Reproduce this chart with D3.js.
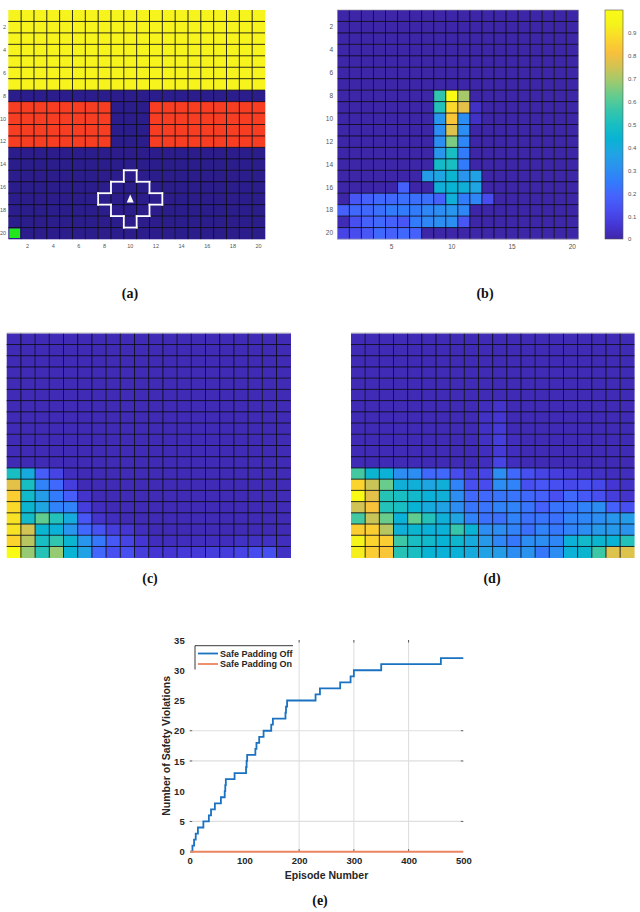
<!DOCTYPE html>
<html><head><meta charset="utf-8">
<script src="https://cdn.jsdelivr.net/npm/d3@7"></script>
<style>body{margin:0;background:#fff}svg{display:block}</style>
</head><body>
<svg id="fig" width="640" height="912"></svg>
<script>
// ---------- DATA ----------
const rowIds = d3.range(1, 21);
const colIds = d3.range(1, 21);
const tickA = [2,4,6,8,10,12,14,16,18,20];
const tickBx = [5,10,15,20];
const tickBy = [2,4,6,8,10,12,14,16,18,20];
const cbTicks = [0,0.1,0.2,0.3,0.4,0.5,0.6,0.7,0.8,0.9];

// (a) environment map: Y = hazard (yellow), R = wall (red), B = free, G = goal
const gridA = [
 "YYYYYYYYYYYYYYYYYYYY","YYYYYYYYYYYYYYYYYYYY","YYYYYYYYYYYYYYYYYYYY",
 "YYYYYYYYYYYYYYYYYYYY","YYYYYYYYYYYYYYYYYYYY","YYYYYYYYYYYYYYYYYYYY",
 "YYYYYYYYYYYYYYYYYYYY","BBBBBBBBBBBBBBBBBBBB",
 "RRRRRRRRBBBRRRRRRRRR","RRRRRRRRBBBRRRRRRRRR","RRRRRRRRBBBRRRRRRRRR","RRRRRRRRBBBRRRRRRRRR",
 "BBBBBBBBBBBBBBBBBBBB","BBBBBBBBBBBBBBBBBBBB","BBBBBBBBBBBBBBBBBBBB",
 "BBBBBBBBBBBBBBBBBBBB","BBBBBBBBBBBBBBBBBBBB","BBBBBBBBBBBBBBBBBBBB",
 "BBBBBBBBBBBBBBBBBBBB","GBBBBBBBBBBBBBBBBBBB"
];
const agentA = [17, 10];      // row, col
const paddingRadius = 2;

const z8 = [0,0,0,0,0,0,0,0];
const z20 = d3.range(20).map(() => 0);
const heatB = [
 z20, z20, z20, z20, z20, z20, z20,
 [...z8, 0.55, 1.0, 0.70, 0,0,0,0,0,0,0,0,0],
 [...z8, 0.52, 0.88, 0.78, 0.04, 0,0,0,0,0,0,0,0],
 [...z8, 0.33, 0.83, 0.30, 0.04, 0,0,0,0,0,0,0,0],
 [...z8, 0.30, 0.77, 0.30, 0,0,0,0,0,0,0,0,0],
 [...z8, 0.30, 0.65, 0.28, 0,0,0,0,0,0,0,0,0],
 [...z8, 0.33, 0.50, 0.25, 0,0,0,0,0,0,0,0,0],
 [...z8, 0.48, 0.50, 0.25, 0,0,0,0,0,0,0,0,0],
 [0,0,0,0,0,0,0, 0.35, 0.38, 0.45, 0.33, 0.37, 0,0,0,0,0,0,0,0],
 [0,0,0,0,0, 0.18, 0,0, 0.42, 0.44, 0.42, 0.38, 0,0,0,0,0,0,0,0],
 [0, 0.15, 0.18, 0.20, 0.20, 0.22, 0.22, 0.22, 0.18, 0.42, 0.25, 0.28, 0.12, 0,0,0,0,0,0,0],
 [0.18, 0.20, 0.20, 0.22, 0.25, 0.25, 0.25, 0.28, 0.30, 0.33, 0.28, 0,0,0,0,0,0,0,0,0],
 [0.02, 0.13, 0.18, 0.20, 0.18, 0.15, 0.25, 0.28, 0.30, 0.30, 0.15, 0,0,0,0,0,0,0,0,0],
 [0.10, 0.12, 0.15, 0.20, 0.18, 0.20, 0.18, 0,0,0,0,0,0,0,0,0,0,0,0,0]
];

const b20 = d3.range(20).map(() => 0.02);
const heatC = [
 b20, b20, b20, b20, b20, b20, b20, b20, b20, b20, b20, b20,
 [0.50, 0.40, 0.17, 0.10, 0.03, 0.02,0.02,0.02,0.02,0.02,0.02,0.02,0.02,0.02,0.02,0.02,0.02,0.02,0.02,0.02],
 [0.78, 0.50, 0.27, 0.20, 0.08, 0.02,0.02,0.02,0.02,0.02,0.02,0.02,0.02,0.02,0.02,0.02,0.02,0.02,0.02,0.02],
 [0.85, 0.47, 0.35, 0.25, 0.17, 0.05, 0.02,0.02,0.02,0.02,0.02,0.02,0.02,0.02,0.02,0.02,0.02,0.02,0.02,0.02],
 [0.88, 0.45, 0.38, 0.27, 0.27, 0.08, 0.03,0.02,0.02,0.02,0.02,0.02,0.02,0.02,0.02,0.02,0.02,0.02,0.02,0.02],
 [0.90, 0.48, 0.62, 0.52, 0.40, 0.15, 0.05, 0.03,0.02,0.02,0.02,0.02,0.02,0.02,0.02,0.02,0.02,0.02,0.02,0.02],
 [0.90, 0.75, 0.45, 0.43, 0.33, 0.20, 0.14, 0.08, 0.06, 0.03,0.02,0.02,0.02,0.02,0.02,0.02,0.02,0.02,0.02,0.02],
 [0.87, 0.72, 0.50, 0.55, 0.45, 0.33, 0.24, 0.16, 0.10, 0.06, 0.03,0.03,0.03,0.03,0.03,0.03,0.04,0.04,0.04,0.03],
 [1.00, 0.68, 0.53, 0.68, 0.44, 0.37, 0.20, 0.13, 0.13, 0.08, 0.06, 0.06, 0.07, 0.07, 0.08, 0.08, 0.10, 0.12, 0.13, 0.04]
];

const heatD = [
 b20, b20, b20, b20, b20, b20,
 [0.02,0.02,0.02,0.02,0.02,0.02,0.02,0.02,0.02,0.03,0.05,0.02,0.02,0.02,0.02,0.02,0.02,0.02,0.02,0.02],
 [0.02,0.02,0.02,0.02,0.02,0.02,0.02,0.02,0.02,0.04,0.06,0.02,0.02,0.02,0.02,0.02,0.02,0.02,0.02,0.02],
 [0.02,0.02,0.02,0.02,0.02,0.02,0.02,0.02,0.02,0.04,0.07,0.02,0.02,0.02,0.02,0.02,0.02,0.02,0.02,0.02],
 [0.02,0.02,0.02,0.02,0.02,0.02,0.02,0.02,0.02,0.04,0.08,0.03,0.02,0.02,0.02,0.02,0.02,0.02,0.02,0.02],
 [0.02,0.02,0.02,0.02,0.02,0.02,0.02,0.02,0.02,0.03,0.07,0.03,0.02,0.02,0.02,0.02,0.02,0.02,0.02,0.02],
 [0.02,0.02,0.02,0.02,0.02,0.02,0.02,0.02,0.02,0.03,0.10,0.03,0.02,0.02,0.02,0.02,0.02,0.02,0.02,0.02],
 [0.58, 0.45, 0.43, 0.30, 0.30, 0.20, 0.20, 0.12, 0.08, 0.10, 0.30, 0.20, 0.13, 0.10, 0.08, 0.07, 0.05, 0.04, 0.03, 0.03],
 [0.87, 0.74, 0.63, 0.42, 0.42, 0.38, 0.42, 0.27, 0.13, 0.12, 0.30, 0.27, 0.13, 0.15, 0.13, 0.11, 0.13, 0.11, 0.06, 0.04],
 [1.00, 0.78, 0.53, 0.50, 0.47, 0.43, 0.42, 0.30, 0.20, 0.20, 0.23, 0.23, 0.20, 0.18, 0.13, 0.20, 0.16, 0.13, 0.08, 0.05],
 [0.75, 0.82, 0.52, 0.50, 0.44, 0.40, 0.37, 0.30, 0.23, 0.23, 0.27, 0.27, 0.23, 0.18, 0.23, 0.23, 0.27, 0.30, 0.18, 0.13],
 [0.58, 0.74, 0.63, 0.43, 0.62, 0.52, 0.42, 0.38, 0.27, 0.22, 0.22, 0.27, 0.22, 0.23, 0.22, 0.27, 0.28, 0.30, 0.33, 0.35],
 [0.85, 0.85, 0.72, 0.42, 0.45, 0.43, 0.43, 0.56, 0.44, 0.30, 0.30, 0.27, 0.22, 0.27, 0.24, 0.27, 0.30, 0.34, 0.34, 0.32],
 [0.95, 0.87, 0.85, 0.57, 0.50, 0.47, 0.44, 0.46, 0.40, 0.34, 0.28, 0.24, 0.30, 0.30, 0.28, 0.43, 0.47, 0.45, 0.44, 0.52],
 [0.93, 0.85, 0.83, 0.53, 0.50, 0.44, 0.43, 0.43, 0.40, 0.37, 0.35, 0.30, 0.32, 0.24, 0.30, 0.43, 0.45, 0.57, 0.77, 0.77]
];

// (e) cumulative safety violations
const offEpisodes = [1, 5, 8, 11, 15, 25, 35, 39, 46, 57, 64, 65, 66, 82, 103, 104, 105, 120, 122, 127, 135, 149, 152, 175, 176, 178, 230, 238, 275, 294, 300, 350, 459, 500];
const offCounts   = [0, 1, 2, 3, 4, 5, 6, 7, 8, 9, 10, 11, 12, 13, 14, 15, 16, 17, 18, 19, 20, 21, 22, 23, 24, 25, 26, 27, 28, 29, 30, 31, 32, 32];
const onEpisodes = [1, 500];
const onCounts   = [0, 0];
const xTicksE = [0,100,200,300,400,500];
const yTicksE = [0,5,10,15,20,25,30,35];
const gridXE = [200,300,400];
const gridYE = [5,15,20];
const seriesNames = ["Safe Padding Off", "Safe Padding On"];
const captions = ["(a)","(b)","(c)","(d)","(e)"];

// ---------- STYLE ----------
const parulaStops = [
 [0.2422,0.1504,0.6603],[0.2706,0.2147,0.8364],[0.2813,0.3006,0.9414],[0.2699,0.3892,0.9906],
 [0.1963,0.4847,0.9892],[0.1687,0.5703,0.9359],[0.1240,0.6442,0.8883],[0.0297,0.7015,0.8331],
 [0.0964,0.7444,0.7611],[0.2161,0.7770,0.6678],[0.3909,0.7981,0.5555],[0.6174,0.7924,0.4355],
 [0.8203,0.7653,0.3310],[0.9728,0.7473,0.2369],[0.9858,0.8427,0.1739],[0.9559,0.9531,0.1064],
 [0.9769,0.9839,0.0805]
].map(c => d3.rgb(c[0]*255, c[1]*255, c[2]*255).formatHex());
const parula = d3.scaleLinear()
  .domain(parulaStops.map((_, i) => i / (parulaStops.length - 1)))
  .range(parulaStops).interpolate(d3.interpolateRgb).clamp(true);
const mapColors = {Y: "#f6f41c", R: "#f73d22", B: "#2c1d8c", G: "#22e61e"};

const svg = d3.select("#fig");
const tickFont = "'Liberation Sans', Arial, sans-serif";

function heatPanel(data, x0, x1, y0, y1, colorFn) {
  const x = d3.scaleBand().domain(colIds).range([x0, x1]);
  const y = d3.scaleBand().domain(rowIds).range([y0, y1]);
  const g = svg.append("g");
  const cells = [];
  data.forEach((row, ri) => {
    const arr = typeof row === "string" ? row.split("") : row;
    arr.forEach((v, ci) => cells.push({r: ri + 1, c: ci + 1, v}));
  });
  g.selectAll("rect.cell").data(cells).join("rect").attr("class", "cell")
    .attr("x", d => x(d.c)).attr("y", d => y(d.r))
    .attr("width", x.bandwidth() + 0.3).attr("height", y.bandwidth() + 0.3)
    .attr("fill", d => colorFn(d.v));
  const gl = g.append("g").attr("stroke", "#0a0a14").attr("stroke-opacity", 0.85).attr("stroke-width", 1);
  colIds.slice(1).forEach(c => gl.append("line").attr("x1", x(c)).attr("x2", x(c)).attr("y1", y0).attr("y2", y1));
  rowIds.slice(1).forEach(r => gl.append("line").attr("y1", y(r)).attr("y2", y(r)).attr("x1", x0).attr("x2", x1));
  return {x, y, g};
}

// ---------- (a) ----------
const A = heatPanel(gridA, 8.3, 265, 10, 239, v => v === "G" ? mapColors.B : mapColors[v]);
gridA.forEach((row, ri) => row.split("").forEach((ch, ci) => {
  if (ch === "G") {
    A.g.append("rect").attr("x", A.x(ci + 1) + 1).attr("y", A.y(ri + 1) + 1)
      .attr("width", A.x.bandwidth() - 2).attr("height", A.y.bandwidth() - 2).attr("fill", mapColors.G);
  }
}));
{
  const inSet = (r, c) => Math.abs(r - agentA[0]) + Math.abs(c - agentA[1]) <= paddingRadius;
  const segs = [];
  rowIds.forEach(r => colIds.forEach(c => {
    if (!inSet(r, c)) return;
    const xl = A.x(c), xr = A.x(c) + A.x.bandwidth(), yt = A.y(r), yb = A.y(r) + A.y.bandwidth();
    if (!inSet(r - 1, c)) segs.push([xl, yt, xr, yt]);
    if (!inSet(r + 1, c)) segs.push([xl, yb, xr, yb]);
    if (!inSet(r, c - 1)) segs.push([xl, yt, xl, yb]);
    if (!inSet(r, c + 1)) segs.push([xr, yt, xr, yb]);
  }));
  A.g.selectAll("line.pad").data(segs).join("line").attr("class", "pad")
    .attr("x1", d => d[0]).attr("y1", d => d[1]).attr("x2", d => d[2]).attr("y2", d => d[3])
    .attr("stroke", "#fff").attr("stroke-width", 1.8).attr("stroke-linecap", "square");
  const cx = A.x(agentA[1]) + A.x.bandwidth() / 2, cy = A.y(agentA[0]) + A.y.bandwidth() / 2;
  A.g.append("path").attr("d", `M${cx},${cy - 4.5}L${cx + 3.5},${cy + 3.5}L${cx - 3.5},${cy + 3.5}Z`).attr("fill", "#fff");
}
{
  const ax = svg.append("g").attr("transform", "translate(0,241)")
    .call(d3.axisBottom(A.x).tickValues(tickA).tickSize(0).tickPadding(3));
  const ay = svg.append("g").attr("transform", "translate(7,0)")
    .call(d3.axisLeft(A.y).tickValues(tickA).tickSize(0).tickPadding(1));
  [ax, ay].forEach(a => { a.select(".domain").remove(); a.selectAll("text").attr("font-size", 5.5).attr("fill", "#555").attr("font-family", tickFont); });
}

// ---------- (b) ----------
const B = heatPanel(heatB, 337.3, 578.3, 10, 239, parula);
svg.append("rect").attr("x", 337.3).attr("y", 10).attr("width", 241).attr("height", 229).attr("fill", "none").attr("stroke", "#999").attr("stroke-width", 0.6);
{
  const ax = svg.append("g").attr("transform", "translate(0,241)")
    .call(d3.axisBottom(B.x).tickValues(tickBx).tickSize(0).tickPadding(3));
  const ay = svg.append("g").attr("transform", "translate(335,0)")
    .call(d3.axisLeft(B.y).tickValues(tickBy).tickSize(0).tickPadding(2));
  [ax, ay].forEach(a => { a.select(".domain").remove(); a.selectAll("text").attr("font-size", 6.5).attr("fill", "#555").attr("font-family", tickFont); });
}
{
  const cb = d3.scaleLinear().domain([0, 1]).range([239, 10]);
  const grad = svg.append("defs").append("linearGradient").attr("id", "parula").attr("x1", 0).attr("y1", 1).attr("x2", 0).attr("y2", 0);
  parulaStops.forEach((c, i) => grad.append("stop").attr("offset", i / (parulaStops.length - 1)).attr("stop-color", c));
  svg.append("rect").attr("x", 605).attr("y", cb(1)).attr("width", 18).attr("height", cb(0) - cb(1))
    .attr("fill", "url(#parula)").attr("stroke", "#555").attr("stroke-width", 0.6);
  const a = svg.append("g").attr("transform", "translate(625,0)")
    .call(d3.axisRight(cb).tickValues(cbTicks).tickSize(0).tickPadding(3).tickFormat(d => d === 0 ? "0" : d3.format(".1f")(d)));
  a.select(".domain").remove();
  a.selectAll("text").attr("font-size", 6).attr("fill", "#555").attr("font-family", tickFont);
}

// ---------- (c), (d) ----------
heatPanel(heatC, 6.7, 290.7, 333.3, 557.7, parula);
heatPanel(heatD, 351, 634.3, 333.3, 557.7, parula);
svg.append("line").attr("x1", 6.7).attr("x2", 290.7).attr("y1", 333).attr("y2", 333).attr("stroke", "#bbb");
svg.append("line").attr("x1", 351).attr("x2", 634.3).attr("y1", 333).attr("y2", 333).attr("stroke", "#bbb");

// ---------- (e) ----------
{
  const x = d3.scaleLinear().domain([0, 500]).range([189.7, 463.3]);
  const y = d3.scaleLinear().domain([0, 35]).range([851.7, 640]);
  const g = svg.append("g");
  g.selectAll("line.gx").data(gridXE).join("line").attr("class", "gx")
    .attr("x1", d => x(d)).attr("x2", d => x(d)).attr("y1", y(35)).attr("y2", y(0))
    .attr("stroke", "#d4d4d4").attr("stroke-width", 0.8);
  g.selectAll("line.gy").data(gridYE).join("line").attr("class", "gy")
    .attr("y1", d => y(d)).attr("y2", d => y(d)).attr("x1", x(0)).attr("x2", x(500))
    .attr("stroke", "#dedede").attr("stroke-width", 1.2);
  gridXE.forEach(d => {
    g.append("line").attr("x1", x(d)).attr("x2", x(d)).attr("y1", y(35)).attr("y2", y(35) + 2.5).attr("stroke", "#333").attr("stroke-width", 0.8);
    g.append("line").attr("x1", x(d)).attr("x2", x(d)).attr("y1", y(0)).attr("y2", y(0) - 2.5).attr("stroke", "#333").attr("stroke-width", 0.8);
  });
  gridYE.forEach(d => {
    g.append("line").attr("x1", x(0)).attr("x2", x(0) + 2.5).attr("y1", y(d)).attr("y2", y(d)).attr("stroke", "#444").attr("stroke-width", 0.8);
    g.append("line").attr("x1", x(500)).attr("x2", x(500) - 2.5).attr("y1", y(d)).attr("y2", y(d)).attr("stroke", "#444").attr("stroke-width", 0.8);
  });
  const line = d3.line().x(d => x(d[0])).y(d => y(d[1])).curve(d3.curveStepAfter);
  g.append("path").datum(offEpisodes.map((e, i) => [e, offCounts[i]]))
    .attr("d", line).attr("fill", "none").attr("stroke", "#1a72c0").attr("stroke-width", 1.8);
  g.append("path").datum(onEpisodes.map((e, i) => [e, onCounts[i]]))
    .attr("d", line).attr("fill", "none").attr("stroke", "#ea8560").attr("stroke-width", 1.9);

  const ax = svg.append("g").attr("transform", `translate(0,${y(0)})`)
    .call(d3.axisBottom(x).tickValues(xTicksE).tickSize(0).tickPadding(6));
  const ay = svg.append("g").attr("transform", `translate(${x(0)},0)`)
    .call(d3.axisLeft(y).tickValues(yTicksE).tickSize(0).tickPadding(5));
  [ax, ay].forEach(a => { a.select(".domain").remove(); a.selectAll("text").attr("font-size", 9.5).attr("font-weight", "bold").attr("fill", "#262626").attr("font-family", tickFont); });

  svg.append("text").attr("x", (x(0) + x(500)) / 2).attr("y", 879).attr("text-anchor", "middle")
    .attr("font-size", 10.5).attr("font-weight", "bold").attr("fill", "#262626").attr("font-family", tickFont).text("Episode Number");
  svg.append("text").attr("transform", `translate(169.5,${(y(0) + y(35)) / 2}) rotate(-90)`).attr("text-anchor", "middle")
    .attr("font-size", 10.5).attr("font-weight", "bold").attr("fill", "#262626").attr("font-family", tickFont).text("Number of Safety Violations");

  const lg = svg.append("g");
  lg.append("path").attr("d", "M195,669.5V645.7H293").attr("fill", "none").attr("stroke", "#222").attr("stroke-width", 0.9);
  const colors = ["#1a72c0", "#ea8560"];
  seriesNames.forEach((n, i) => {
    const yy = 653.5 + i * 10.5;
    lg.append("line").attr("x1", 198).attr("x2", 218).attr("y1", yy).attr("y2", yy).attr("stroke", colors[i]).attr("stroke-width", 1.8);
    lg.append("text").attr("x", 220).attr("y", yy + 3.2).attr("font-size", 9).attr("font-weight", "bold")
      .attr("fill", "#262626").attr("font-family", tickFont).text(n);
  });
}

// ---------- captions ----------
const capPos = [[130, 298], [485, 298], [150, 583], [492, 583], [320, 905]];
svg.selectAll("text.cap").data(captions).join("text").attr("class", "cap")
  .attr("x", (d, i) => capPos[i][0]).attr("y", (d, i) => capPos[i][1])
  .attr("text-anchor", "middle").attr("font-size", 14).attr("font-weight", "bold")
  .attr("font-family", "'Liberation Serif', 'DejaVu Serif', serif").attr("fill", "#111").text(d => d);
</script>
</body></html>
